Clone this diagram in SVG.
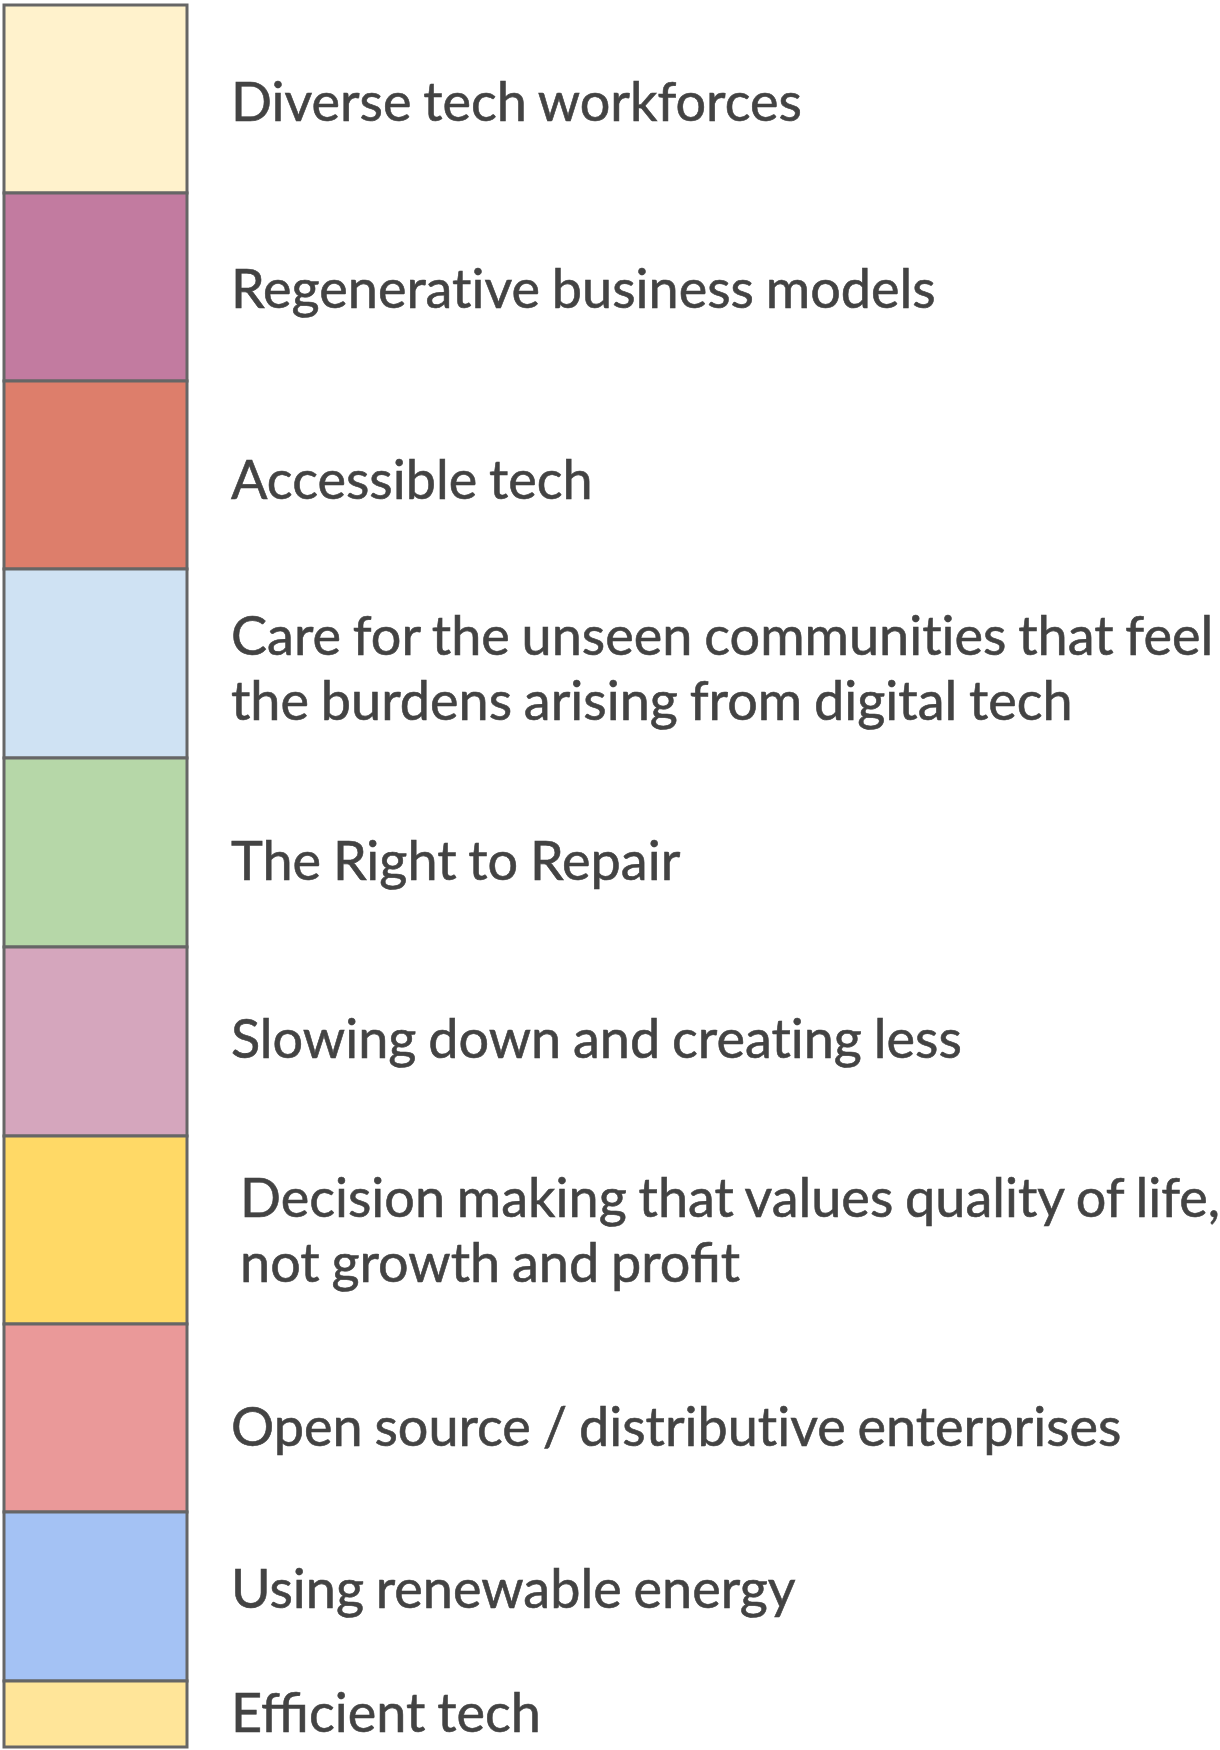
<svg xmlns="http://www.w3.org/2000/svg" width="1220" height="1750" viewBox="0 0 1220 1750">
<style>
.b{stroke:#666666;stroke-width:3}
.t{font-family:Lato,"Liberation Sans",sans-serif;font-size:54px;fill:#434343;stroke:#434343;stroke-width:0.6px;word-spacing:-2px}
</style>
<rect x="0" y="0" width="1220" height="1750" fill="#ffffff"/>
<g id="n1"><rect class="b" x="4" y="5" width="183" height="188" fill="#FFF2CC"/><text class="t" x="231" y="121">Diverse tech workforces</text></g>
<g id="n2"><rect class="b" x="4" y="193" width="183" height="188" fill="#C27BA0"/><text class="t" x="231" y="308">Regenerat&#8204;ive business models</text></g>
<g id="n3"><rect class="b" x="4" y="381" width="183" height="188" fill="#DD7E6B"/><text class="t" x="231" y="499">Accessible tech</text></g>
<g id="n4"><rect class="b" x="4" y="569" width="183" height="189" fill="#CFE2F3"/><text class="t" x="231" y="655">Care for the unseen communit&#8204;ies that feel</text><text class="t" x="231" y="720">the burdens arising from digital tech</text></g>
<g id="n5"><rect class="b" x="4" y="758" width="183" height="189" fill="#B6D7A8"/><text class="t" x="231" y="880">The Right to Repair</text></g>
<g id="n6"><rect class="b" x="4" y="947" width="183" height="189" fill="#D5A6BD"/><text class="t" x="231" y="1058">Slowing down and creat&#8204;ing less</text></g>
<g id="n7"><rect class="b" x="4" y="1136" width="183" height="188" fill="#FFD966"/><text class="t" x="240" y="1217">Decision making that values quality of life,</text><text class="t" x="240" y="1282">not growth and profit</text></g>
<g id="n8"><rect class="b" x="4" y="1324" width="183" height="188" fill="#EA9999"/><text class="t" x="231" y="1446">Open source / distribut&#8204;ive enterprises</text></g>
<g id="n9"><rect class="b" x="4" y="1512" width="183" height="169" fill="#A4C2F4"/><text class="t" x="231" y="1608">Using renewable energy</text></g>
<g id="n10"><rect class="b" x="4" y="1681" width="183" height="66" fill="#FFE599"/><text class="t" x="231" y="1732">Efficient tech</text></g>
<g id="connectors"></g>
</svg>
